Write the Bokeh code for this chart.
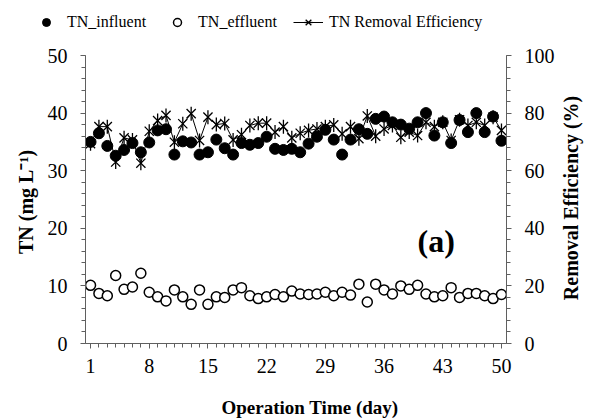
import math
from bokeh.plotting import figure
from bokeh.layouts import column, row
from bokeh.models import Range1d, LinearAxis, FixedTicker, Legend, LegendItem, Label
from bokeh.embed import file_html
from bokeh.resources import INLINE

days = list(range(1, 51))
tn_influent = [35.0, 36.5, 34.3, 32.6, 33.6, 34.8, 33.2, 34.9, 37.0, 37.2,
               32.8, 35.1, 34.9, 32.8, 33.2, 35.4, 33.9, 32.8, 34.8, 34.5,
               34.8, 35.9, 33.8, 33.6, 33.8, 33.2, 34.7, 35.9, 37.1, 35.4,
               32.8, 35.4, 37.2, 36.4, 39.0, 39.4, 38.4, 38.0, 37.3, 38.4,
               40.0, 36.1, 38.4, 34.8, 38.8, 36.7, 40.0, 36.7, 39.4, 35.2]
tn_effluent = [10.1, 8.7, 8.3, 11.8, 9.4, 9.8, 12.2, 8.9, 8.1, 7.4,
               9.3, 8.1, 6.8, 9.3, 6.8, 8.1, 8.0, 9.3, 9.7, 8.3,
               7.8, 8.1, 8.5, 8.1, 9.1, 8.6, 8.5, 8.6, 8.9, 8.3,
               8.9, 8.4, 10.3, 7.2, 10.3, 9.3, 8.6, 10.0, 9.4, 10.1,
               8.6, 8.1, 8.3, 9.7, 8.0, 8.7, 8.7, 8.3, 7.8, 8.5]
removal_eff = [69.4, 75.3, 75.3, 63.0, 71.4, 70.7, 62.6, 73.7, 77.4, 79.2,
               69.9, 76.3, 79.8, 70.5, 78.6, 76.0, 76.4, 70.7, 72.5, 75.7,
               76.5, 76.5, 73.4, 75.3, 71.4, 73.0, 74.0, 74.5, 75.3, 75.9,
               72.8, 75.3, 71.1, 79.0, 72.0, 74.5, 75.7, 71.6, 73.4, 72.2,
               76.8, 75.3, 76.8, 70.5, 77.7, 75.7, 76.8, 75.7, 78.6, 74.0]
x_ticks = [1, 8, 15, 22, 29, 36, 43, 50]
y_ticks = [0, 10, 20, 30, 40, 50]
y2_ticks = [0, 20, 40, 60, 80, 100]
series_names = ["TN_influent", "TN_effluent", "TN Removal Efficiency"]

FONT = "Liberation Serif"
AXIS_COLOR = "#5f5f5f"


def bare(w, h):
    f = figure(width=w, height=h, output_backend="svg", toolbar_location=None,
               x_range=Range1d(0, 1), y_range=Range1d(0, 1),
               x_axis_location=None, y_axis_location=None, min_border=0)
    f.outline_line_color = None
    f.xgrid.visible = False
    f.ygrid.visible = False
    return f


# ---------------- main chart ----------------
p = figure(width=557, height=346, output_backend="svg", toolbar_location=None,
           x_range=Range1d(0.4, 50.6), y_range=Range1d(0, 50),
           min_border_left=85, min_border_right=50, min_border_top=21,
           min_border_bottom=37)
p.outline_line_color = None
p.xgrid.visible = False
p.ygrid.visible = False

p.extra_y_ranges = {"eff": Range1d(0, 100)}
right_axis = LinearAxis(y_range_name="eff")
p.add_layout(right_axis, "right")

xa = p.xaxis[0]
xa.ticker = FixedTicker(ticks=x_ticks, minor_ticks=days)
xa.major_label_standoff = 10

ya = p.yaxis[0]
ya.ticker = FixedTicker(ticks=y_ticks, minor_ticks=list(range(0, 51, 2)))
ya.axis_label = "TN  (mg L\u207b\u00b9)"
ya.major_label_standoff = 13
ya.axis_label_standoff = 8

right_axis.ticker = FixedTicker(ticks=y2_ticks, minor_ticks=list(range(0, 101, 4)))
right_axis.major_label_standoff = 13

for ax in [xa, ya, right_axis]:
    ax.axis_line_color = AXIS_COLOR
    ax.major_tick_line_color = AXIS_COLOR
    ax.minor_tick_line_color = AXIS_COLOR
    ax.major_tick_in = 0
    ax.major_tick_out = 5
    ax.minor_tick_in = 0
    ax.minor_tick_out = 4
    ax.major_label_text_font = FONT
    ax.major_label_text_font_size = "20px"
    ax.major_label_text_color = "black"
    ax.axis_label_text_font = FONT
    ax.axis_label_text_font_size = "20px"
    ax.axis_label_text_font_style = "bold"
    ax.axis_label_text_color = "black"

p.scatter(days, tn_influent, size=11, marker="circle",
          fill_color="black", line_color="black")
p.scatter(days, tn_effluent, size=10, marker="circle",
          fill_color="white", line_color="black", line_width=1.5)
p.line(days, removal_eff, y_range_name="eff", line_color="black", line_width=1)
p.scatter(days, removal_eff, y_range_name="eff", marker="x", size=13,
          line_color="black", line_width=1.3)
p.scatter(days, removal_eff, y_range_name="eff", marker="dash", size=14,
          angle=math.pi / 2, line_color="black", line_width=1.3)

p.add_layout(Label(x=40, y=17.8, text="(a)", text_font=FONT, text_font_size="32px",
                   text_font_style="bold", text_color="black",
                   text_baseline="alphabetic", text_align="left"))

# ---------------- right axis title ----------------
rfig = bare(37, 346)
rfig.add_layout(Label(x=0.36, y=0.514, text="Removal Efficiency  (%)", angle=math.pi / 2,
                      text_font=FONT, text_font_size="20px", text_font_style="bold",
                      text_color="black", text_align="center", text_baseline="middle"))

# ---------------- bottom axis title ----------------
bfig = bare(594, 40)
bfig.add_layout(Label(x=0.529, y=0.33, text="Operation  Time  (day)",
                      text_font=FONT, text_font_size="19px", text_font_style="bold",
                      text_color="black", text_align="center", text_baseline="middle"))

# ---------------- legend strip ----------------
lfig = bare(594, 34)
l_inf = lfig.scatter([5], [5], size=11, marker="circle", fill_color="black", line_color="black")
l_eff = lfig.scatter([5], [5], size=10, marker="circle", fill_color="white",
                     line_color="black", line_width=1.5)
l_line = lfig.line([5, 6], [5, 5], line_color="black", line_width=1)
l_x = lfig.scatter([5], [5], marker="x", size=13, line_color="black", line_width=1.3)
l_v = lfig.scatter([5], [5], marker="dash", size=14, angle=math.pi / 2,
                   line_color="black", line_width=1.3)
legend = Legend(items=[
    LegendItem(label=series_names[0], renderers=[l_inf]),
    LegendItem(label=series_names[1], renderers=[l_eff]),
    LegendItem(label=series_names[2], renderers=[l_line, l_x, l_v]),
], location=(31, 2), orientation="horizontal")
legend.border_line_color = None
legend.background_fill_alpha = 0
legend.padding = 0
legend.margin = 0
legend.spacing = 16
legend.glyph_width = 30
legend.label_standoff = 6
legend.label_text_font = FONT
legend.label_text_font_size = "16px"
legend.label_text_color = "black"
lfig.add_layout(legend, "center")

layout = column(lfig, row(p, rfig), bfig)
open("out.html", "w").write(file_html(layout, INLINE))
